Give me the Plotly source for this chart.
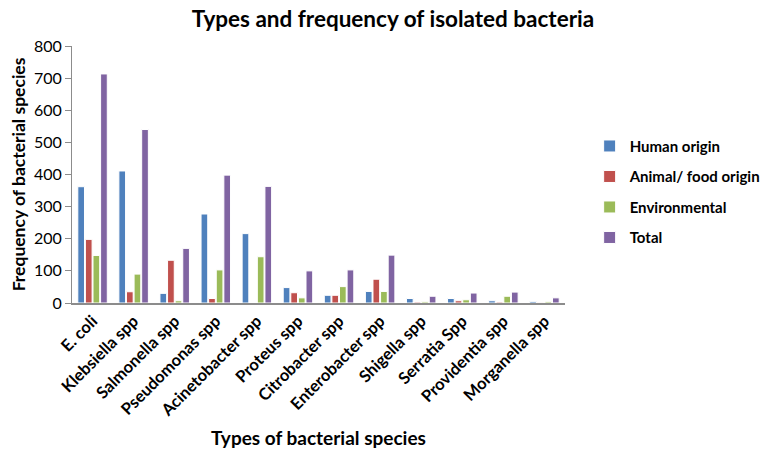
import plotly.graph_objects as go

categories = ["E. coli", "Klebsiella spp", "Salmonella spp", "Pseudomonas spp",
              "Acinetobacter spp", "Proteus spp", "Citrobacter spp", "Enterobacter spp",
              "Shigella spp", "Serratia Spp", "Providentia spp", "Morganella spp"]
human = [362, 411, 30, 277, 216, 48, 24, 36, 14, 14, 7, 5]
animal = [198, 35, 133, 14, 0, 32, 24, 74, 3, 7, 3, 2]
environmental = [148, 90, 7, 103, 144, 16, 51, 36, 4, 10, 21, 4]
total = [713, 540, 170, 398, 363, 100, 103, 149, 21, 31, 34, 16]

series = [("Human origin", human, "#4F81BD"),
          ("Animal/ food origin", animal, "#C0504D"),
          ("Environmental", environmental, "#9BBB59"),
          ("Total", total, "#8064A2")]

fig = go.Figure()
for i, (name, vals, col) in enumerate(series):
    fig.add_trace(go.Bar(x=categories, y=vals, name="<b>" + name + "</b>", legendgroup=str(i),
                         marker=dict(color=col, line=dict(color="white", width=1))))

font_family = "Lato, 'Open Sans', Arial, sans-serif"
fig.update_layout(
    width=770, height=446,
    margin=dict(l=64, r=200, t=38, b=151),
    paper_bgcolor="white", plot_bgcolor="white",
    barmode="group", bargap=0.26, bargroupgap=0.12,
    title=dict(text="<b>Types and frequency of isolated bacteria</b>", x=0.5, xanchor="center",
               y=0.993, yanchor="top", font=dict(family=font_family, size=22.5, color="black")),
    font=dict(family=font_family, color="black"),
    legend=dict(x=1.05, y=0.433, xanchor="left", yanchor="middle", tracegroupgap=8,
                itemwidth=30,
                font=dict(family=font_family, size=15, color="black"), bgcolor="rgba(0,0,0,0)"),
    showlegend=True,
)

fig.update_yaxes(range=[0, 800], dtick=100, showgrid=False, showline=True, linecolor="#8c8c8c",
                 linewidth=1, ticks="outside", tickcolor="#8c8c8c", ticklen=6,
                 tickfont=dict(family=font_family, size=16, color="black"),
                 title=dict(text="<b>Frequency of bacterial species</b>",
                            font=dict(family=font_family, size=17.5, color="black"), standoff=19),
                 zeroline=False, automargin=False)
fig.update_xaxes(showgrid=False, showline=True, linecolor="#8c8c8c", linewidth=2,
                 tickangle=-45, ticks="",
                 tickfont=dict(family=font_family, size=16.5, color="black"),
                 ticktext=["<b>" + c + "</b>" for c in categories], tickvals=categories,
                 title=dict(text="<b>Types of bacterial species</b>",
                            font=dict(family=font_family, size=19, color="black"), standoff=12),
                 automargin=False)

fig.write_html("out.html")
